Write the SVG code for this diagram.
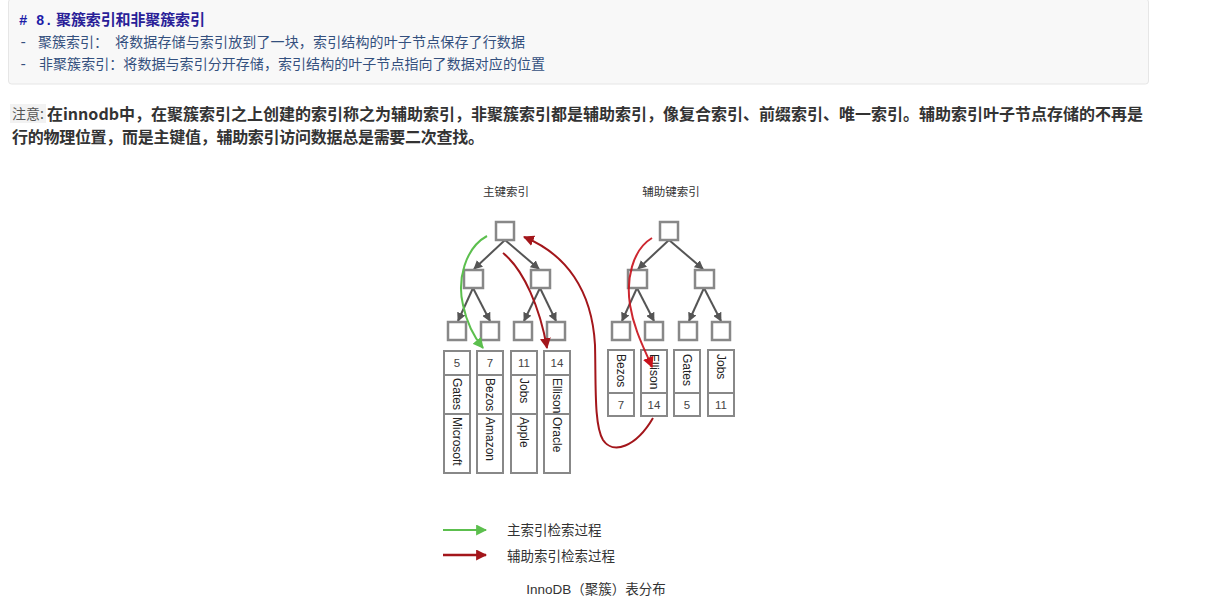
<svg xmlns="http://www.w3.org/2000/svg" width="1216" height="610" viewBox="0 0 1216 610">
<style>
.cjk{font-family:"Noto Sans CJK SC","Noto Sans",sans-serif}
.lat{font-family:"Liberation Sans","Noto Sans CJK SC",sans-serif}
.mono{font-family:"Liberation Mono","Noto Sans CJK SC",monospace}
.box{fill:#fff;stroke:#888;stroke-width:2.5}
.cell{fill:#fff;stroke:#888;stroke-width:2}
.edge{stroke:#555;stroke-width:2;fill:none;marker-end:url(#ag)}
.num{font-family:"Liberation Sans",sans-serif;font-size:11.5px;fill:#444;text-anchor:middle}
.nm{font-family:"Liberation Sans",sans-serif;font-size:12px;fill:#222}
.lbl{font-family:"Noto Sans CJK SC","Noto Sans",sans-serif;font-size:11.5px;fill:#333;text-anchor:middle}
.leg{font-family:"Liberation Sans","Noto Sans CJK SC",sans-serif;font-size:13.5px;fill:#333}
</style>
<defs>
<marker id="ag" viewBox="0 0 10 10" refX="9" refY="5" markerWidth="9" markerHeight="9" markerUnits="userSpaceOnUse" orient="auto"><path d="M0,0 L10,5 L0,10 z" fill="#555"/></marker>
<marker id="agr" viewBox="0 0 10 10" refX="9" refY="5" markerWidth="11" markerHeight="11" markerUnits="userSpaceOnUse" orient="auto"><path d="M0,0 L10,5 L0,10 z" fill="#5cbf4e"/></marker>
<marker id="adr" viewBox="0 0 10 10" refX="9" refY="5" markerWidth="11" markerHeight="11" markerUnits="userSpaceOnUse" orient="auto"><path d="M0,0 L10,5 L0,10 z" fill="#a3161b"/></marker>
<marker id="ar" viewBox="0 0 10 10" refX="9" refY="5" markerWidth="11" markerHeight="11" markerUnits="userSpaceOnUse" orient="auto"><path d="M0,0 L10,5 L0,10 z" fill="#c8101a"/></marker>
</defs>
<rect width="1216" height="610" fill="#fff"/>

<!-- markdown code block -->
<g id="codeblock">
<rect x="8.5" y="-1" width="1140" height="85" rx="3" fill="#f8f8f8" stroke="#e6e6e6"/>
<text x="19" y="25" class="mono" font-size="14" font-weight="bold" fill="#1c1ca8">#<tspan x="36">8.</tspan><tspan x="56" class="cjk" font-size="15" textLength="149" fill="#2a1f98">聚簇索引和非聚簇索引</tspan></text>
<text x="19" y="47" class="mono" font-size="14" fill="#34507e">-<tspan x="38" class="cjk" textLength="70">聚簇索引：</tspan><tspan x="115" class="cjk" textLength="410">将数据存储与索引放到了一块，索引结构的叶子节点保存了行数据</tspan></text>
<text x="19" y="69" class="mono" font-size="14" fill="#34507e">-<tspan x="39" class="cjk" textLength="506">非聚簇索引：将数据与索引分开存储，索引结构的叶子节点指向了数据对应的位置</tspan></text>
</g>

<!-- note -->
<g id="note">
<rect x="10" y="104" width="36" height="19" fill="#f2f2f2"/>
<text x="12" y="119" class="cjk" font-size="14" fill="#555">注意:</text>
<text x="47" y="120" class="cjk" font-size="16" font-weight="bold" fill="#333" textLength="1096">在innodb中，在聚簇索引之上创建的索引称之为辅助索引，非聚簇索引都是辅助索引，像复合索引、前缀索引、唯一索引。辅助索引叶子节点存储的不再是</text>
<text x="12" y="143" class="cjk" font-size="16" font-weight="bold" fill="#333" textLength="472">行的物理位置，而是主键值，辅助索引访问数据总是需要二次查找。</text>
</g>

<g id="labels">
<text x="506" y="196" class="lbl">主键索引</text>
<text x="671" y="196" class="lbl">辅助键索引</text>
</g>

<!-- tree edges -->
<g id="tree-edges">
<line x1="505" y1="240" x2="474" y2="269" class="edge"/>
<line x1="505" y1="240" x2="539" y2="269" class="edge"/>
<line x1="473" y1="288" x2="458" y2="321" class="edge"/>
<line x1="473" y1="288" x2="490" y2="321" class="edge"/>
<line x1="540" y1="288" x2="524" y2="321" class="edge"/>
<line x1="540" y1="288" x2="556" y2="321" class="edge"/>
<line x1="669" y1="240" x2="638" y2="269" class="edge"/>
<line x1="669" y1="240" x2="703" y2="269" class="edge"/>
<line x1="637" y1="288" x2="622" y2="321" class="edge"/>
<line x1="637" y1="288" x2="654" y2="321" class="edge"/>
<line x1="704" y1="288" x2="689" y2="321" class="edge"/>
<line x1="704" y1="288" x2="721" y2="321" class="edge"/>
</g>

<!-- primary tree nodes -->
<g id="p-root"><rect x="496" y="222" width="18" height="18" class="box"/></g>
<g id="p-l2a"><rect x="464" y="270" width="19" height="18" class="box"/></g>
<g id="p-l2b"><rect x="531" y="270" width="19" height="18" class="box"/></g>
<g id="p-leaf1"><rect x="448" y="322" width="18" height="18" class="box"/></g>
<g id="p-leaf2"><rect x="481" y="322" width="18" height="18" class="box"/></g>
<g id="p-leaf3"><rect x="514" y="322" width="18" height="18" class="box"/></g>
<g id="p-leaf4"><rect x="547" y="322" width="18" height="18" class="box"/></g>

<!-- secondary tree nodes -->
<g id="s-root"><rect x="660" y="222" width="18" height="18" class="box"/></g>
<g id="s-l2a"><rect x="628" y="270" width="19" height="18" class="box"/></g>
<g id="s-l2b"><rect x="695" y="270" width="19" height="18" class="box"/></g>
<g id="s-leaf1"><rect x="612" y="322" width="18" height="18" class="box"/></g>
<g id="s-leaf2"><rect x="645" y="322" width="18" height="18" class="box"/></g>
<g id="s-leaf3"><rect x="679" y="322" width="18" height="18" class="box"/></g>
<g id="s-leaf4"><rect x="712" y="322" width="18" height="18" class="box"/></g>

<!-- primary rows -->
<g id="p-row-5">
<rect x="444" y="351" width="26" height="24" class="cell"/><rect x="444" y="375" width="26" height="39" class="cell"/><rect x="444" y="414" width="26" height="59" class="cell"/>
<text x="457" y="367" class="num">5</text>
<text transform="translate(457,378) rotate(90)" dy="0.35em" class="nm">Gates</text>
<text transform="translate(457,417) rotate(90)" dy="0.35em" class="nm">Microsoft</text>
</g>
<g id="p-row-7">
<rect x="477" y="351" width="26" height="24" class="cell"/><rect x="477" y="375" width="26" height="39" class="cell"/><rect x="477" y="414" width="26" height="59" class="cell"/>
<text x="490" y="367" class="num">7</text>
<text transform="translate(490,378) rotate(90)" dy="0.35em" class="nm">Bezos</text>
<text transform="translate(490,417) rotate(90)" dy="0.35em" class="nm">Amazon</text>
</g>
<g id="p-row-11">
<rect x="511" y="351" width="26" height="24" class="cell"/><rect x="511" y="375" width="26" height="39" class="cell"/><rect x="511" y="414" width="26" height="59" class="cell"/>
<text x="524" y="367" class="num">11</text>
<text transform="translate(524,378) rotate(90)" dy="0.35em" class="nm">Jobs</text>
<text transform="translate(524,417) rotate(90)" dy="0.35em" class="nm">Apple</text>
</g>
<g id="p-row-14">
<rect x="544" y="351" width="26" height="24" class="cell"/><rect x="544" y="375" width="26" height="39" class="cell"/><rect x="544" y="414" width="26" height="59" class="cell"/>
<text x="557" y="367" class="num">14</text>
<text transform="translate(557,378) rotate(90)" dy="0.35em" class="nm">Ellison</text>
<text transform="translate(557,417) rotate(90)" dy="0.35em" class="nm">Oracle</text>
</g>

<!-- secondary rows -->
<g id="s-row-bezos">
<rect x="608" y="350" width="26" height="43" class="cell"/><rect x="608" y="393" width="26" height="23" class="cell"/>
<text transform="translate(621,354) rotate(90)" dy="0.35em" class="nm">Bezos</text>
<text x="621" y="409" class="num">7</text>
</g>
<g id="s-row-ellison">
<rect x="641" y="350" width="26" height="43" class="cell"/><rect x="641" y="393" width="26" height="23" class="cell"/>
<text transform="translate(654,354) rotate(90)" dy="0.35em" class="nm">Ellison</text>
<text x="654" y="409" class="num">14</text>
</g>
<g id="s-row-gates">
<rect x="674" y="350" width="26" height="43" class="cell"/><rect x="674" y="393" width="26" height="23" class="cell"/>
<text transform="translate(687,354) rotate(90)" dy="0.35em" class="nm">Gates</text>
<text x="687" y="409" class="num">5</text>
</g>
<g id="s-row-jobs">
<rect x="708" y="350" width="26" height="43" class="cell"/><rect x="708" y="393" width="26" height="23" class="cell"/>
<text transform="translate(721,354) rotate(90)" dy="0.35em" class="nm">Jobs</text>
<text x="721" y="409" class="num">11</text>
</g>

<!-- search process connectors -->
<g id="connectors" fill="none" stroke-width="2">
<path d="M487,236 C465,248 457,280 463,305 C467,324 474,337 483,348" stroke="#5cbf4e" marker-end="url(#agr)"/>
<path d="M503,253 C524,270 540,308 547,348" stroke="#a3161b" marker-end="url(#adr)"/>
<path d="M653,418 C636,447 613,455 603,440 C594,425 596,385 595,345 C592,290 566,254 524,237" stroke="#a3161b" marker-end="url(#adr)"/>
<path d="M652,238 C632,250 626,280 630,305 C634,330 645,350 652,367" stroke="#c8101a" stroke-opacity="0.9" marker-end="url(#ar)"/>
</g>

<!-- legend -->
<g id="legend">
<line x1="443" y1="530" x2="486" y2="530" stroke="#5cbf4e" stroke-width="2" marker-end="url(#agr)"/>
<text x="507" y="535" class="leg">主索引检索过程</text>
<line x1="443" y1="555" x2="486" y2="555" stroke="#a3161b" stroke-width="2.5" marker-end="url(#adr)"/>
<text x="507" y="561" class="leg">辅助索引检索过程</text>
<text x="596" y="594" class="leg" text-anchor="middle">InnoDB（聚簇）表分布</text>
</g>
</svg>
